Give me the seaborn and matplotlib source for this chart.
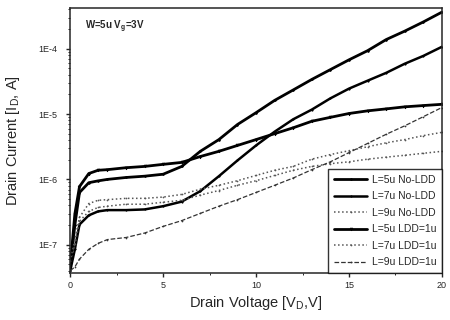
import numpy as np
import matplotlib
matplotlib.use("Agg")
import matplotlib.pyplot as plt
import matplotlib.ticker as mticker
import seaborn as sns

# drain voltage sweep (V)
vd = [0, 0.25, 0.5, 1, 1.5, 2, 3, 4, 5, 6, 7, 8, 9, 10, 11, 12, 13, 14, 15, 16, 17, 18, 19, 20]

# drain current (A)
l5_noldd = [4.3e-8, 2.0e-7, 6.3e-7, 8.9e-7, 9.5e-7, 1.0e-6, 1.07e-6, 1.12e-6, 1.20e-6, 1.58e-6,
            2.69e-6, 4.07e-6, 6.92e-6, 1.05e-5, 1.62e-5, 2.34e-5, 3.39e-5, 4.79e-5, 6.76e-5, 9.33e-5,
            1.38e-4, 1.86e-4, 2.57e-4, 3.63e-4]
l7_noldd = [4.0e-8, 8.5e-8, 2.04e-7, 2.82e-7, 3.24e-7, 3.39e-7, 3.39e-7, 3.47e-7, 3.89e-7, 4.57e-7,
            6.61e-7, 1.12e-6, 1.95e-6, 3.31e-6, 5.37e-6, 8.32e-6, 1.17e-5, 1.74e-5, 2.45e-5, 3.24e-5,
            4.27e-5, 5.89e-5, 7.76e-5, 1.07e-4]
l9_noldd = [5.0e-8, 1.02e-7, 2.29e-7, 3.24e-7, 3.72e-7, 3.89e-7, 4.17e-7, 4.17e-7, 4.47e-7, 4.79e-7,
            5.75e-7, 6.76e-7, 8.13e-7, 9.55e-7, 1.15e-6, 1.38e-6, 1.58e-6, 1.74e-6, 1.86e-6, 2.04e-6,
            2.19e-6, 2.34e-6, 2.51e-6, 2.69e-6]
l5_ldd = [4.6e-8, 2.95e-7, 7.76e-7, 1.23e-6, 1.38e-6, 1.41e-6, 1.51e-6, 1.58e-6, 1.70e-6, 1.82e-6,
          2.24e-6, 2.69e-6, 3.31e-6, 4.07e-6, 5.01e-6, 6.17e-6, 7.76e-6, 8.91e-6, 1.02e-5, 1.12e-5,
          1.20e-5, 1.29e-5, 1.35e-5, 1.41e-5]
l7_ldd = [5.6e-8, 1.20e-7, 2.63e-7, 4.27e-7, 4.79e-7, 4.90e-7, 5.13e-7, 5.13e-7, 5.37e-7, 5.89e-7,
          7.08e-7, 8.13e-7, 9.55e-7, 1.15e-6, 1.38e-6, 1.58e-6, 2.04e-6, 2.40e-6, 2.75e-6, 3.16e-6,
          3.63e-6, 4.07e-6, 4.68e-6, 5.25e-6]
l9_ldd = [4.0e-8, 4.57e-8, 6.03e-8, 8.51e-8, 1.05e-7, 1.20e-7, 1.29e-7, 1.51e-7, 1.91e-7, 2.34e-7,
          3.02e-7, 3.89e-7, 4.90e-7, 6.31e-7, 8.13e-7, 1.05e-6, 1.41e-6, 1.86e-6, 2.57e-6, 3.55e-6,
          4.90e-6, 6.61e-6, 9.12e-6, 1.26e-5]

yticks = [1e-7, 1e-6, 1e-5, 1e-4]
ytick_labels = ["1E-7", "1E-6", "1E-5", "1E-4"]

sns.set_style("ticks")
plt.rcParams['font.family'] = ['Liberation Sans', 'DejaVu Sans']
plt.rcParams['mathtext.default'] = 'regular'

fig = plt.figure(figsize=(4.5, 3.2), dpi=100)
ax = fig.add_axes([0.156, 0.147, 0.826, 0.828])

series = [
    (l5_noldd, "L=5u No-LDD", dict(color="black", lw=2.0, ls="-", marker=".", ms=2.5)),
    (l7_noldd, "L=7u No-LDD", dict(color="black", lw=1.8, ls="-", marker=".", ms=2)),
    (l9_noldd, "L=9u No-LDD", dict(color="#555555", lw=1.1, ls=":", marker=".", ms=1.5)),
    (l5_ldd, "L=5u LDD=1u", dict(color="black", lw=2.0, ls="-", marker="v", ms=2)),
    (l7_ldd, "L=7u LDD=1u", dict(color="#555555", lw=1.1, ls=":", marker=".", ms=1.5)),
    (l9_ldd, "L=9u LDD=1u", dict(color="#333333", lw=0.9, ls="--", marker=".", ms=1.5)),
]
for vals, name, kw in series:
    sns.lineplot(x=vd, y=vals, ax=ax, label=name, mec=kw["color"], mew=0.5, **kw)

ax.set_yscale("log")
ax.set_xlim(0, 20)
ax.set_ylim(3.7e-8, 4.2e-4)
ax.set_xticks([0, 5, 10, 15, 20])
ax.xaxis.set_minor_locator(mticker.MultipleLocator(2.5))
ax.set_yticks(yticks)
ax.set_yticklabels(ytick_labels)
ax.yaxis.set_minor_locator(mticker.LogLocator(base=10, subs=np.arange(2, 10)))
ax.yaxis.set_minor_formatter(mticker.NullFormatter())
ax.tick_params(axis="both", which="major", direction="out", length=3, width=1, labelsize=6.5)
ax.tick_params(axis="y", which="major", pad=6)
ax.tick_params(axis="x", which="major", pad=3)
ax.tick_params(axis="both", which="minor", direction="out", length=1.5, width=0.7)
for s in ax.spines.values():
    s.set_linewidth(1.1)
    s.set_visible(True)

ax.set_xlabel("Drain Voltage [V$_D$,V]", fontsize=10.5, labelpad=3)
ax.set_ylabel("Drain Current [I$_D$, A]", fontsize=10.5, labelpad=12)
ax.text(0.04, 0.93, "W=5u V$_g$=3V", transform=ax.transAxes, fontsize=7, fontweight="bold", va="center")

leg = ax.legend(loc="lower right", fontsize=7.5, frameon=True, fancybox=False, borderaxespad=0,
                handlelength=3.2, labelspacing=0.62, borderpad=0.55, handletextpad=0.4)
leg.get_frame().set_edgecolor("black")
leg.get_frame().set_linewidth(1.0)

fig.savefig("out.png", dpi=100)
